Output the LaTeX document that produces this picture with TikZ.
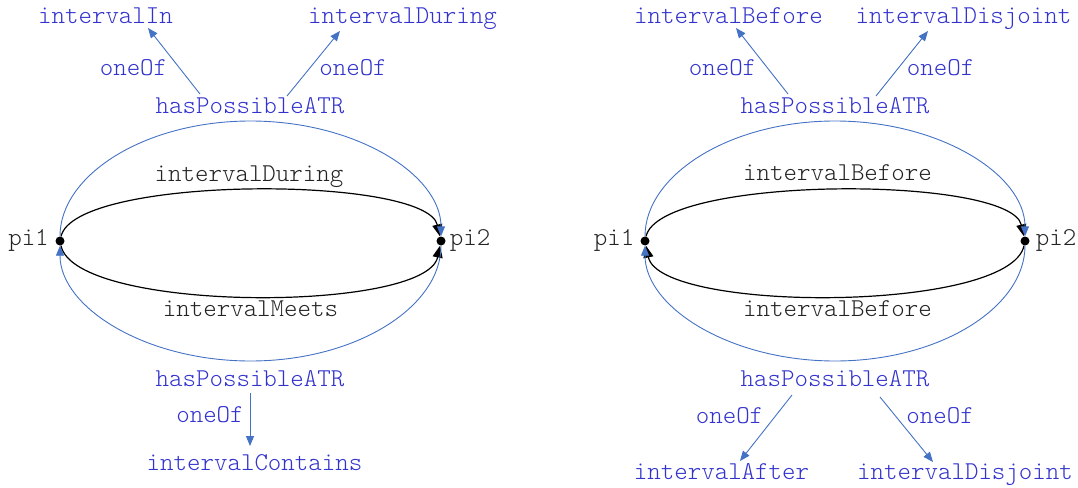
\documentclass[tikz,border=0pt]{standalone}
\usepackage{fontspec}
\setmonofont{Latin Modern Mono Light}
\usetikzlibrary{arrows.meta}
\definecolor{lblblue}{RGB}{50,50,205}
\definecolor{lineblue}{RGB}{68,114,196}
\definecolor{lblgray}{RGB}{35,35,35}
\begin{document}
\begin{tikzpicture}[x=1pt,y=-1pt,
  font=\ttfamily\fontsize{25.7}{30}\selectfont,
  lbl/.style={inner sep=0pt, anchor=base, text=lblblue},
  rel/.style={inner sep=0pt, anchor=base, text=lblgray},
  dot/.style={circle, fill=black, inner sep=0pt, minimum size=9pt},
  ring/.style={draw=lineblue, line width=0.9pt, -{Triangle[length=10pt,width=8pt]}},
  oneof/.style={draw=lineblue, line width=0.9pt, -{Triangle[length=10pt,width=8pt]}},
  link/.style={draw=black, line width=1.2pt, -{Triangle[length=12pt,width=10pt]}}]
\useasboundingbox (0,0) rectangle (1078,487);

% ---------- left: pi1 / pi2 with intervalDuring and intervalMeets ----------
\node[dot] (pA1) at (60,241) {};
\node[dot] (pA2) at (441,241) {};
\node[rel] (nA1) at (28.5,245) {pi1};
\node[rel] (nA2) at (470,245) {pi2};
\node[rel] (rA1) at (249,181) {intervalDuring};
\node[rel] (rA2) at (250.5,316) {intervalMeets};
\node[lbl] (hA1) at (250,113) {hasPossibleATR};
\node[lbl] (hA2) at (250,386) {hasPossibleATR};
\node[lbl] (tA1) at (105.5,24) {intervalIn};
\node[lbl] (tA2) at (402.5,24) {intervalDuring};
\node[lbl] (oA1) at (133.5,75) {oneOf};
\node[lbl] (oA2) at (353,75) {oneOf};
\node[lbl] (oA3) at (210,422) {oneOf};
\node[lbl] (tA3) at (254.5,470) {intervalContains};
\coordinate (eA1) at (250.5,121);
\coordinate (eA2) at (250.5,361);

% relation arcs
\draw[link] (pA1) .. controls +(15,-66) and +(-15,-66) .. (pA2);
\draw[link] (pA1) .. controls +(15,72) and +(-15,72) .. (pA2);
% possible-relation ellipse
\draw[ring] (pA1) .. controls +(0,-66.3) and +(-105.2,0) .. (eA1)
            .. controls +(105.2,0) and +(0,-66.3) .. (pA2);
\draw[ring] (pA2) .. controls +(0,66.3) and +(105.2,0) .. (eA2)
            .. controls +(-105.2,0) and +(0,66.3) .. (pA1);
% oneOf links
\draw[oneof] ([shift={(-50,-19)}]hA1.base) -- ([shift={(42.5,4)}]tA1.base);
\draw[oneof] ([shift={(37,-17)}]hA1.base) -- ([shift={(-62.5,7)}]tA2.base);
\draw[oneof] ([shift={(0,7)}]hA2.base) -- ([shift={(-4.5,-24)}]tA3.base);

% ---------- right: pi1 / pi2 with intervalBefore both ways ----------
\node[dot] (pB1) at (645,241) {};
\node[dot] (pB2) at (1025,241) {};
\node[rel] (nB1) at (614,245) {pi1};
\node[rel] (nB2) at (1056,245) {pi2};
\node[rel] (rB1) at (837.5,180) {intervalBefore};
\node[rel] (rB2) at (837.5,316) {intervalBefore};
\node[lbl] (hB1) at (835,113) {hasPossibleATR};
\node[lbl] (hB2) at (835,386) {hasPossibleATR};
\node[lbl] (tB1) at (728.5,24) {intervalBefore};
\node[lbl] (tB2) at (963.5,24) {intervalDisjoint};
\node[lbl] (oB1) at (722.5,75) {oneOf};
\node[lbl] (oB2) at (940.5,75) {oneOf};
\node[lbl] (oB3) at (729.5,423) {oneOf};
\node[lbl] (oB4) at (940,423) {oneOf};
\node[lbl] (tB3) at (721.5,479) {intervalAfter};
\node[lbl] (tB4) at (965,479) {intervalDisjoint};
\coordinate (eB1) at (835,121);
\coordinate (eB2) at (835,361);

% relation arcs
\draw[link] (pB1) .. controls +(15,-66) and +(-15,-66) .. (pB2);
\draw[link] (pB2) .. controls +(-15,72) and +(15,72) .. (pB1);
% possible-relation ellipse
\draw[ring] (pB1) .. controls +(0,-66.3) and +(-104.9,0) .. (eB1)
            .. controls +(104.9,0) and +(0,-66.3) .. (pB2);
\draw[ring] (pB2) .. controls +(0,66.3) and +(104.9,0) .. (eB2)
            .. controls +(-104.9,0) and +(0,66.3) .. (pB1);
% oneOf links
\draw[oneof] ([shift={(-47,-19)}]hB1.base) -- ([shift={(7.5,4)}]tB1.base);
\draw[oneof] ([shift={(41,-17)}]hB1.base) -- ([shift={(-35.5,7)}]tB2.base);
\draw[oneof] ([shift={(-43,9)}]hB2.base) -- ([shift={(18.5,-18)}]tB3.base);
\draw[oneof] ([shift={(45,11)}]hB2.base) -- ([shift={(-32,-17)}]tB4.base);
\end{tikzpicture}
\end{document}
